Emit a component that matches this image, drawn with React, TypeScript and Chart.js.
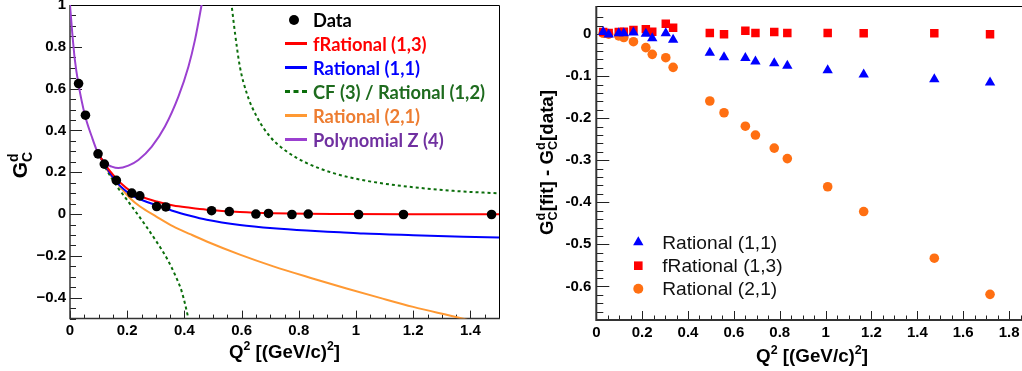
import React, { useEffect, useRef } from "react";
import { Chart, registerables } from "chart.js";

Chart.register(...registerables);

// ================= DATA =================
const q2 = [0.030, 0.054, 0.098, 0.120, 0.162, 0.216, 0.244, 0.303, 0.335, 0.495, 0.557, 0.650, 0.694, 0.776, 0.833, 1.009, 1.166, 1.474, 1.717];
const gcData = [0.624, 0.473, 0.288, 0.239, 0.161, 0.100, 0.087, 0.036, 0.034, 0.016, 0.012, 0.000, 0.003, -0.002, 0.000, -0.002, -0.002, -0.002, -0.002];

const resRational11 = [0.005, -0.001, 0.002, 0.002, 0.004, 0.001, -0.010, 0.002, -0.013, -0.044, -0.055, -0.057, -0.065, -0.069, -0.075, -0.086, -0.096, -0.107, -0.115];
const resFRational13 = [0.005, 0.003, 0.005, 0.006, 0.010, 0.012, 0.006, 0.025, 0.015, 0.003, 0.000, 0.008, 0.003, 0.005, 0.003, 0.003, 0.002, 0.002, 0.000];
const resRational21 = [0.002, 0.000, -0.004, -0.008, -0.018, -0.032, -0.048, -0.056, -0.079, -0.159, -0.187, -0.219, -0.240, -0.271, -0.296, -0.363, -0.422, -0.533, -0.619];

// fit curves
const fRational13Q2 = [0.105, 0.14, 0.175, 0.221, 0.245, 0.303, 0.361, 0.42, 0.478, 0.594, 0.711, 0.828, 0.944, 1.2, 1.5];
const fRational13Gc = [0.275, 0.205, 0.151, 0.101, 0.085, 0.060, 0.041, 0.030, 0.021, 0.010, 0.004, 0.001, 0.000, -0.001, -0.001];

const rational11Q2 = [0.105, 0.14, 0.175, 0.221, 0.245, 0.303, 0.335, 0.361, 0.42, 0.478, 0.594, 0.711, 0.828, 0.944, 1.026, 1.2, 1.375, 1.5];
const rational11Gc = [0.275, 0.196, 0.135, 0.086, 0.071, 0.042, 0.028, 0.015, -0.008, -0.027, -0.052, -0.068, -0.079, -0.087, -0.093, -0.101, -0.108, -0.112];

const cfUpperQ2 = [0.556, 0.565, 0.577, 0.594, 0.618, 0.653, 0.699, 0.758, 0.828, 0.921, 1.037, 1.177, 1.34, 1.5];
const cfUpperGc = [1.10, 1.0, 0.865, 0.705, 0.578, 0.466, 0.371, 0.299, 0.244, 0.196, 0.159, 0.132, 0.111, 0.099];
const cfLowerQ2 = [0.105, 0.128, 0.163, 0.198, 0.233, 0.268, 0.303, 0.338, 0.367, 0.391, 0.414, 0.42];
const cfLowerGc = [0.275, 0.212, 0.135, 0.070, 0.005, -0.062, -0.133, -0.210, -0.290, -0.372, -0.50, -0.54];

const rational21Q2 = [0.105, 0.14, 0.175, 0.21, 0.245, 0.303, 0.361, 0.42, 0.478, 0.594, 0.711, 0.851, 0.967, 1.084, 1.2, 1.364, 1.4];
const rational21Gc = [0.275, 0.190, 0.130, 0.076, 0.036, -0.013, -0.059, -0.096, -0.131, -0.194, -0.250, -0.309, -0.356, -0.401, -0.444, -0.497, -0.51];

const polyZQ2 = [0, 0.008, 0.017, 0.029, 0.052, 0.076, 0.099, 0.122, 0.146, 0.169, 0.204, 0.239, 0.286, 0.332, 0.379, 0.414, 0.437, 0.46, 0.47];
const polyZGc = [1.0, 0.865, 0.737, 0.626, 0.474, 0.371, 0.288, 0.244, 0.227, 0.220, 0.232, 0.259, 0.323, 0.419, 0.562, 0.705, 0.833, 1.0, 1.08];

// legends
const leftLegendLabels = ["Data", "fRational (1,3)", "Rational (1,1)", "CF (3) / Rational (1,2)", "Rational (2,1)", "Polynomial Z (4)"];
const rightLegendLabels = ["Rational (1,1)", "fRational (1,3)", "Rational (2,1)"];

// tick labels
const leftXMajor = [0, 0.2, 0.4, 0.6, 0.8, 1.0, 1.2, 1.4];
const leftXLabels = ["0", "0.2", "0.4", "0.6", "0.8", "1", "1.2", "1.4"];
const leftYMajor = [-0.4, -0.2, 0, 0.2, 0.4, 0.6, 0.8, 1.0];
const leftYLabels = ["\u22120.4", "\u22120.2", "0", "0.2", "0.4", "0.6", "0.8", "1"];
const rightXMajor = [0, 0.2, 0.4, 0.6, 0.8, 1.0, 1.2, 1.4, 1.6, 1.8];
const rightXLabels = ["0", "0.2", "0.4", "0.6", "0.8", "1", "1.2", "1.4", "1.6", "1.8"];
const rightYMajor = [-0.6, -0.5, -0.4, -0.3, -0.2, -0.1, 0];
const rightYLabels = ["-0.6", "-0.5", "-0.4", "-0.3", "-0.2", "-0.1", "0"];

// ================= STYLE / LAYOUT =================
const H = 371;
const LEFT_W = 515;
const RIGHT_X = 515;
const RIGHT_W = 530;
const TICK_FONT = { family: "'Liberation Sans', Arial, sans-serif", size: 15, weight: "bold" as const };
const FAMILY = "'Liberation Sans', Arial, sans-serif";
const LEG_FONT = "bold 19px Lato, 'Open Sans', sans-serif";

const C_RED = "#ff0000";
const C_BLUE = "#0000ff";
const C_GREEN = "#0b6e0b";
const C_ORANGE_LINE = "#ff9933";
const C_PURPLE_LINE = "#9b40d0";
const C_ORANGE_MARK = "#ff6f12";

const leftLegendStyle = [
  { kind: "dot", color: "#000", text: "#000" },
  { kind: "line", color: C_RED, text: "#ff0000" },
  { kind: "line", color: C_BLUE, text: "#0000ff" },
  { kind: "dash", color: C_GREEN, text: "#1e6b1e" },
  { kind: "line", color: C_ORANGE_LINE, text: "#ed7d31" },
  { kind: "line", color: C_PURPLE_LINE, text: "#7030a0" },
];
const LEFT_LEG_ROWS = [20, 43.5, 67.5, 91.5, 115.5, 139.5];
const RIGHT_LEG_ROWS = [242.3, 265.7, 288.7];

// ================= HELPERS =================
const pts = (xs: number[], ys: number[]) => xs.map((x, i) => ({ x, y: ys[i] }));
const near = (v: number, step: number) => Math.abs(v / step - Math.round(v / step)) < 1e-6;
const labelFor = (v: number, majors: number[], labels: string[]) => {
  const i = majors.findIndex((m) => Math.abs(m - v) < 1e-6);
  return i >= 0 ? labels[i] : "";
};

type Part = { t?: string; sub?: string; sup?: string };
function drawRich(ctx: CanvasRenderingContext2D, parts: Part[], x: number, y: number, main: number, small: number, dry: boolean) {
  let cx = x;
  for (const p of parts) {
    if (p.t !== undefined) {
      ctx.font = `bold ${main}px ${FAMILY}`;
      if (!dry) ctx.fillText(p.t, cx, y);
      cx += ctx.measureText(p.t).width;
    } else {
      ctx.font = `bold ${small}px ${FAMILY}`;
      let w = 0;
      if (p.sup) {
        if (!dry) ctx.fillText(p.sup, cx, y - main * 0.42);
        w = Math.max(w, ctx.measureText(p.sup).width);
      }
      if (p.sub) {
        if (!dry) ctx.fillText(p.sub, cx, y + main * 0.24);
        w = Math.max(w, ctx.measureText(p.sub).width);
      }
      cx += w;
    }
  }
  return cx - x;
}
function fitSize(ctx: CanvasRenderingContext2D, parts: Part[], target: number, base: number, ratio: number) {
  const w = drawRich(ctx, parts, 0, 0, base, base * ratio, true);
  return (base * target) / w;
}

const q2Title: Part[] = [{ t: "Q" }, { sup: "2" }, { t: " [(GeV/c)" }, { sup: "2" }, { t: "]" }];

function frameTicksPlugin(cfg: any) {
  return {
    id: "frameTicks",
    beforeDatasetsDraw(chart: any) {
      const { ctx, chartArea: a } = chart;
      const xs = chart.scales.x;
      const ys = chart.scales.y;
      ctx.save();
      ctx.strokeStyle = "#222";
      ctx.lineWidth = 1;
      ctx.beginPath();
      xs.ticks.forEach((t: any) => {
        if (!near(t.value, cfg.xMinor)) return;
        const px = Math.round(xs.getPixelForValue(t.value)) + 0.5;
        const len = near(t.value, cfg.xMajor) ? cfg.xMajorLen : cfg.xMinorLen;
        ctx.moveTo(px, a.bottom);
        ctx.lineTo(px, a.bottom - len);
      });
      ys.ticks.forEach((t: any) => {
        if (!near(t.value, cfg.yMinor)) return;
        const py = Math.round(ys.getPixelForValue(t.value)) + 0.5;
        const len = near(t.value, cfg.yMajor) ? cfg.yMajorLen : cfg.yMinorLen;
        ctx.moveTo(a.left, py);
        ctx.lineTo(a.left + len, py);
      });
      ctx.stroke();
      // frame
      ctx.strokeStyle = "#000";
      ctx.lineWidth = 1;
      ctx.beginPath();
      ctx.moveTo(a.left, a.top + 0.5);
      ctx.lineTo(a.right + 0.5, a.top + 0.5);
      ctx.lineTo(a.right + 0.5, a.bottom);
      ctx.stroke();
      ctx.strokeStyle = "#333";
      ctx.lineWidth = cfg.axisWidth;
      ctx.beginPath();
      ctx.moveTo(a.left, a.top);
      ctx.lineTo(a.left, a.bottom);
      ctx.lineTo(a.right + 1, a.bottom);
      ctx.stroke();
      ctx.restore();
    },
  };
}

const leftDecorPlugin = {
  id: "leftDecor",
  afterDraw(chart: any) {
    const ctx: CanvasRenderingContext2D = chart.ctx;
    ctx.save();
    // legend
    ctx.font = LEG_FONT;
    const sx = 172 / ctx.measureText(leftLegendLabels[3]).width;
    leftLegendLabels.forEach((lab, i) => {
      const y = LEFT_LEG_ROWS[i];
      const st = leftLegendStyle[i];
      ctx.lineWidth = 3;
      ctx.strokeStyle = st.color;
      ctx.fillStyle = st.color;
      if (st.kind === "dot") {
        ctx.beginPath();
        ctx.arc(294, y, 5, 0, Math.PI * 2);
        ctx.fill();
      } else if (st.kind === "line") {
        ctx.beginPath();
        ctx.moveTo(285, y);
        ctx.lineTo(307, y);
        ctx.stroke();
      } else {
        ctx.beginPath();
        [285, 293.5, 302].forEach((x0) => {
          ctx.moveTo(x0, y);
          ctx.lineTo(x0 + 5, y);
        });
        ctx.stroke();
      }
      ctx.save();
      ctx.scale(sx, 1);
      ctx.font = LEG_FONT;
      ctx.fillStyle = st.text;
      ctx.textBaseline = "middle";
      ctx.textAlign = "left";
      ctx.fillText(lab, 313 / sx, y + 1);
      ctx.restore();
    });
    // x title
    ctx.fillStyle = "#000";
    ctx.textBaseline = "alphabetic";
    const s = fitSize(ctx, q2Title, 111, 18, 0.66);
    const w = drawRich(ctx, q2Title, 0, 0, s, s * 0.66, true);
    drawRich(ctx, q2Title, 340 - w, 358, s, s * 0.66, false);
    // y title
    const yT: Part[] = [{ t: "G" }, { sub: "C", sup: "d" }];
    const wy = drawRich(ctx, yT, 0, 0, 21, 14, true);
    ctx.save();
    ctx.translate(26.5, 165);
    ctx.rotate(-Math.PI / 2);
    drawRich(ctx, yT, -wy / 2, 0, 21, 14, false);
    ctx.restore();
    ctx.restore();
  },
};

const rightDecorPlugin = {
  id: "rightDecor",
  afterDraw(chart: any) {
    const ctx: CanvasRenderingContext2D = chart.ctx;
    ctx.save();
    // legend
    const mx = 638.3 - RIGHT_X;
    const tx = 662.3 - RIGHT_X;
    ctx.font = `19px ${FAMILY}`;
    const fs = (19 * 115) / ctx.measureText(rightLegendLabels[0]).width;
    rightLegendLabels.forEach((lab, i) => {
      const y = RIGHT_LEG_ROWS[i];
      ctx.beginPath();
      if (i === 0) {
        const r = 6;
        ctx.fillStyle = C_BLUE;
        ctx.moveTo(mx, y - r);
        ctx.lineTo(mx + r * 0.866, y + r / 2);
        ctx.lineTo(mx - r * 0.866, y + r / 2);
        ctx.closePath();
      } else if (i === 1) {
        ctx.fillStyle = C_RED;
        ctx.rect(mx - 4.3, y - 4.3, 8.6, 8.6);
      } else {
        ctx.fillStyle = C_ORANGE_MARK;
        ctx.arc(mx, y, 5, 0, Math.PI * 2);
      }
      ctx.fill();
      ctx.fillStyle = "#111";
      ctx.font = `${fs}px ${FAMILY}`;
      ctx.textBaseline = "middle";
      ctx.fillText(lab, tx, y + 1);
    });
    // x title
    ctx.fillStyle = "#000";
    ctx.textBaseline = "alphabetic";
    const s = fitSize(ctx, q2Title, 112, 18, 0.66);
    const w = drawRich(ctx, q2Title, 0, 0, s, s * 0.66, true);
    drawRich(ctx, q2Title, 868 - RIGHT_X - w, 362, s, s * 0.66, false);
    // y title
    const yT: Part[] = [{ t: "G" }, { sub: "C", sup: "d" }, { t: "[fit] - G" }, { sub: "C", sup: "d" }, { t: "[data]" }];
    const sy = fitSize(ctx, yT, 145, 19, 0.68);
    const wy = drawRich(ctx, yT, 0, 0, sy, sy * 0.68, true);
    ctx.save();
    ctx.translate(553 - RIGHT_X, 162.5);
    ctx.rotate(-Math.PI / 2);
    drawRich(ctx, yT, -wy / 2, 0, sy, sy * 0.68, false);
    ctx.restore();
    ctx.restore();
  },
};

function fixAxis(w?: number, h?: number) {
  return (s: any) => {
    if (w !== undefined) s.width = w;
    if (h !== undefined) s.height = h;
    s.paddingLeft = 0;
    s.paddingRight = 0;
    s.paddingTop = 0;
    s.paddingBottom = 0;
  };
}

const lineDs = (label: string, xs: number[], ys: number[], color: string, dash?: number[]) => ({
  label,
  data: pts(xs, ys),
  showLine: true,
  borderColor: color,
  backgroundColor: color,
  borderWidth: 2,
  borderDash: dash || [],
  pointRadius: 0,
  cubicInterpolationMode: "monotone",
  fill: false,
});

const NO_GRID = { display: false, drawTicks: false, tickLength: 0 };

function buildLeft(): any {
  return {
    type: "scatter",
    data: {
      datasets: [
        { label: "Data", data: pts(q2, gcData), pointRadius: 4.8, pointBackgroundColor: "#000", pointBorderColor: "#000", pointBorderWidth: 0, showLine: false },
        lineDs("fRational (1,3)", fRational13Q2, fRational13Gc, C_RED),
        lineDs("Rational (1,1)", rational11Q2, rational11Gc, C_BLUE),
        lineDs("CF (3) / Rational (1,2)", cfUpperQ2, cfUpperGc, C_GREEN, [3, 3]),
        lineDs("CF (3) / Rational (1,2) lower", cfLowerQ2, cfLowerGc, C_GREEN, [3, 3]),
        lineDs("Rational (2,1)", rational21Q2, rational21Gc, C_ORANGE_LINE),
        lineDs("Polynomial Z (4)", polyZQ2, polyZGc, C_PURPLE_LINE),
      ],
    },
    options: {
      animation: false,
      responsive: false,
      maintainAspectRatio: false,
      devicePixelRatio: 1,
      events: [],
      layout: { padding: { left: 0, top: 5, right: 16, bottom: 0 } },
      plugins: { legend: { display: false }, tooltip: { enabled: false } },
      scales: {
        x: {
          type: "linear",
          min: 0,
          max: 1.5,
          grid: NO_GRID,
          border: { display: false },
          ticks: { stepSize: 0.05, autoSkip: false, maxRotation: 0, minRotation: 0, padding: 3, font: TICK_FONT, color: "#000", callback: (v: number) => labelFor(v, leftXMajor, leftXLabels) },
          afterFit: fixAxis(undefined, H - 318.6),
        },
        y: {
          type: "linear",
          min: -0.5,
          max: 1,
          grid: NO_GRID,
          border: { display: false },
          ticks: { stepSize: 0.05, autoSkip: false, padding: 4, font: TICK_FONT, color: "#000", callback: (v: number) => labelFor(v, leftYMajor, leftYLabels) },
          afterFit: fixAxis(70, undefined),
        },
      },
    },
    plugins: [
      frameTicksPlugin({ xMinor: 0.05, xMajor: 0.2, xMajorLen: 8, xMinorLen: 4, yMinor: 0.05, yMajor: 0.2, yMajorLen: 12, yMinorLen: 6, axisWidth: 1.5 }),
      leftDecorPlugin,
    ],
  };
}

function buildRight(): any {
  return {
    type: "scatter",
    data: {
      datasets: [
        { label: "Rational (1,1)", data: pts(q2, resRational11), pointStyle: "triangle", pointRadius: 6, pointBackgroundColor: C_BLUE, pointBorderColor: C_BLUE, pointBorderWidth: 0 },
        { label: "fRational (1,3)", data: pts(q2, resFRational13), pointStyle: "rect", pointRadius: 6, pointBackgroundColor: C_RED, pointBorderColor: C_RED, pointBorderWidth: 0 },
        { label: "Rational (2,1)", data: pts(q2, resRational21), pointStyle: "circle", pointRadius: 4.8, pointBackgroundColor: C_ORANGE_MARK, pointBorderColor: C_ORANGE_MARK, pointBorderWidth: 0 },
      ],
    },
    options: {
      animation: false,
      responsive: false,
      maintainAspectRatio: false,
      devicePixelRatio: 1,
      events: [],
      layout: { padding: { left: 0, top: 6, right: 13, bottom: 0 } },
      plugins: { legend: { display: false }, tooltip: { enabled: false } },
      scales: {
        x: {
          type: "linear",
          min: 0,
          max: 1.9,
          grid: NO_GRID,
          border: { display: false },
          ticks: { stepSize: 0.05, autoSkip: false, maxRotation: 0, minRotation: 0, padding: 4, font: TICK_FONT, color: "#000", callback: (v: number) => labelFor(v, rightXMajor, rightXLabels) },
          afterFit: fixAxis(undefined, H - 320),
        },
        y: {
          type: "linear",
          min: -0.68,
          max: 0.067,
          grid: NO_GRID,
          border: { display: false },
          ticks: { stepSize: 0.02, autoSkip: false, padding: 5, font: TICK_FONT, color: "#000", callback: (v: number) => labelFor(v, rightYMajor, rightYLabels) },
          afterFit: fixAxis(596.3 - RIGHT_X, undefined),
        },
      },
    },
    plugins: [
      frameTicksPlugin({ xMinor: 0.05, xMajor: 0.2, xMajorLen: 9, xMinorLen: 4.5, yMinor: 0.02, yMajor: 0.1, yMajorLen: 13, yMinorLen: 7, axisWidth: 2 }),
      rightDecorPlugin,
    ],
  };
}

function ChartBox({ left, width, build }: { left: number; width: number; build: () => any }) {
  const ref = useRef<HTMLCanvasElement | null>(null);
  useEffect(() => {
    if (!ref.current) return;
    const chart = new Chart(ref.current, build());
    return () => chart.destroy();
  }, []);
  return <canvas ref={ref} width={width} height={H} style={{ position: "absolute", left, top: 0, width, height: H, display: "block" }} />;
}

export default function App() {
  return (
    <div style={{ position: "fixed", left: 0, top: 0, width: 1022, height: H, overflow: "hidden", background: "#fff" }}>
      <ChartBox left={0} width={LEFT_W} build={buildLeft} />
      <ChartBox left={RIGHT_X} width={RIGHT_W} build={buildRight} />
    </div>
  );
}
